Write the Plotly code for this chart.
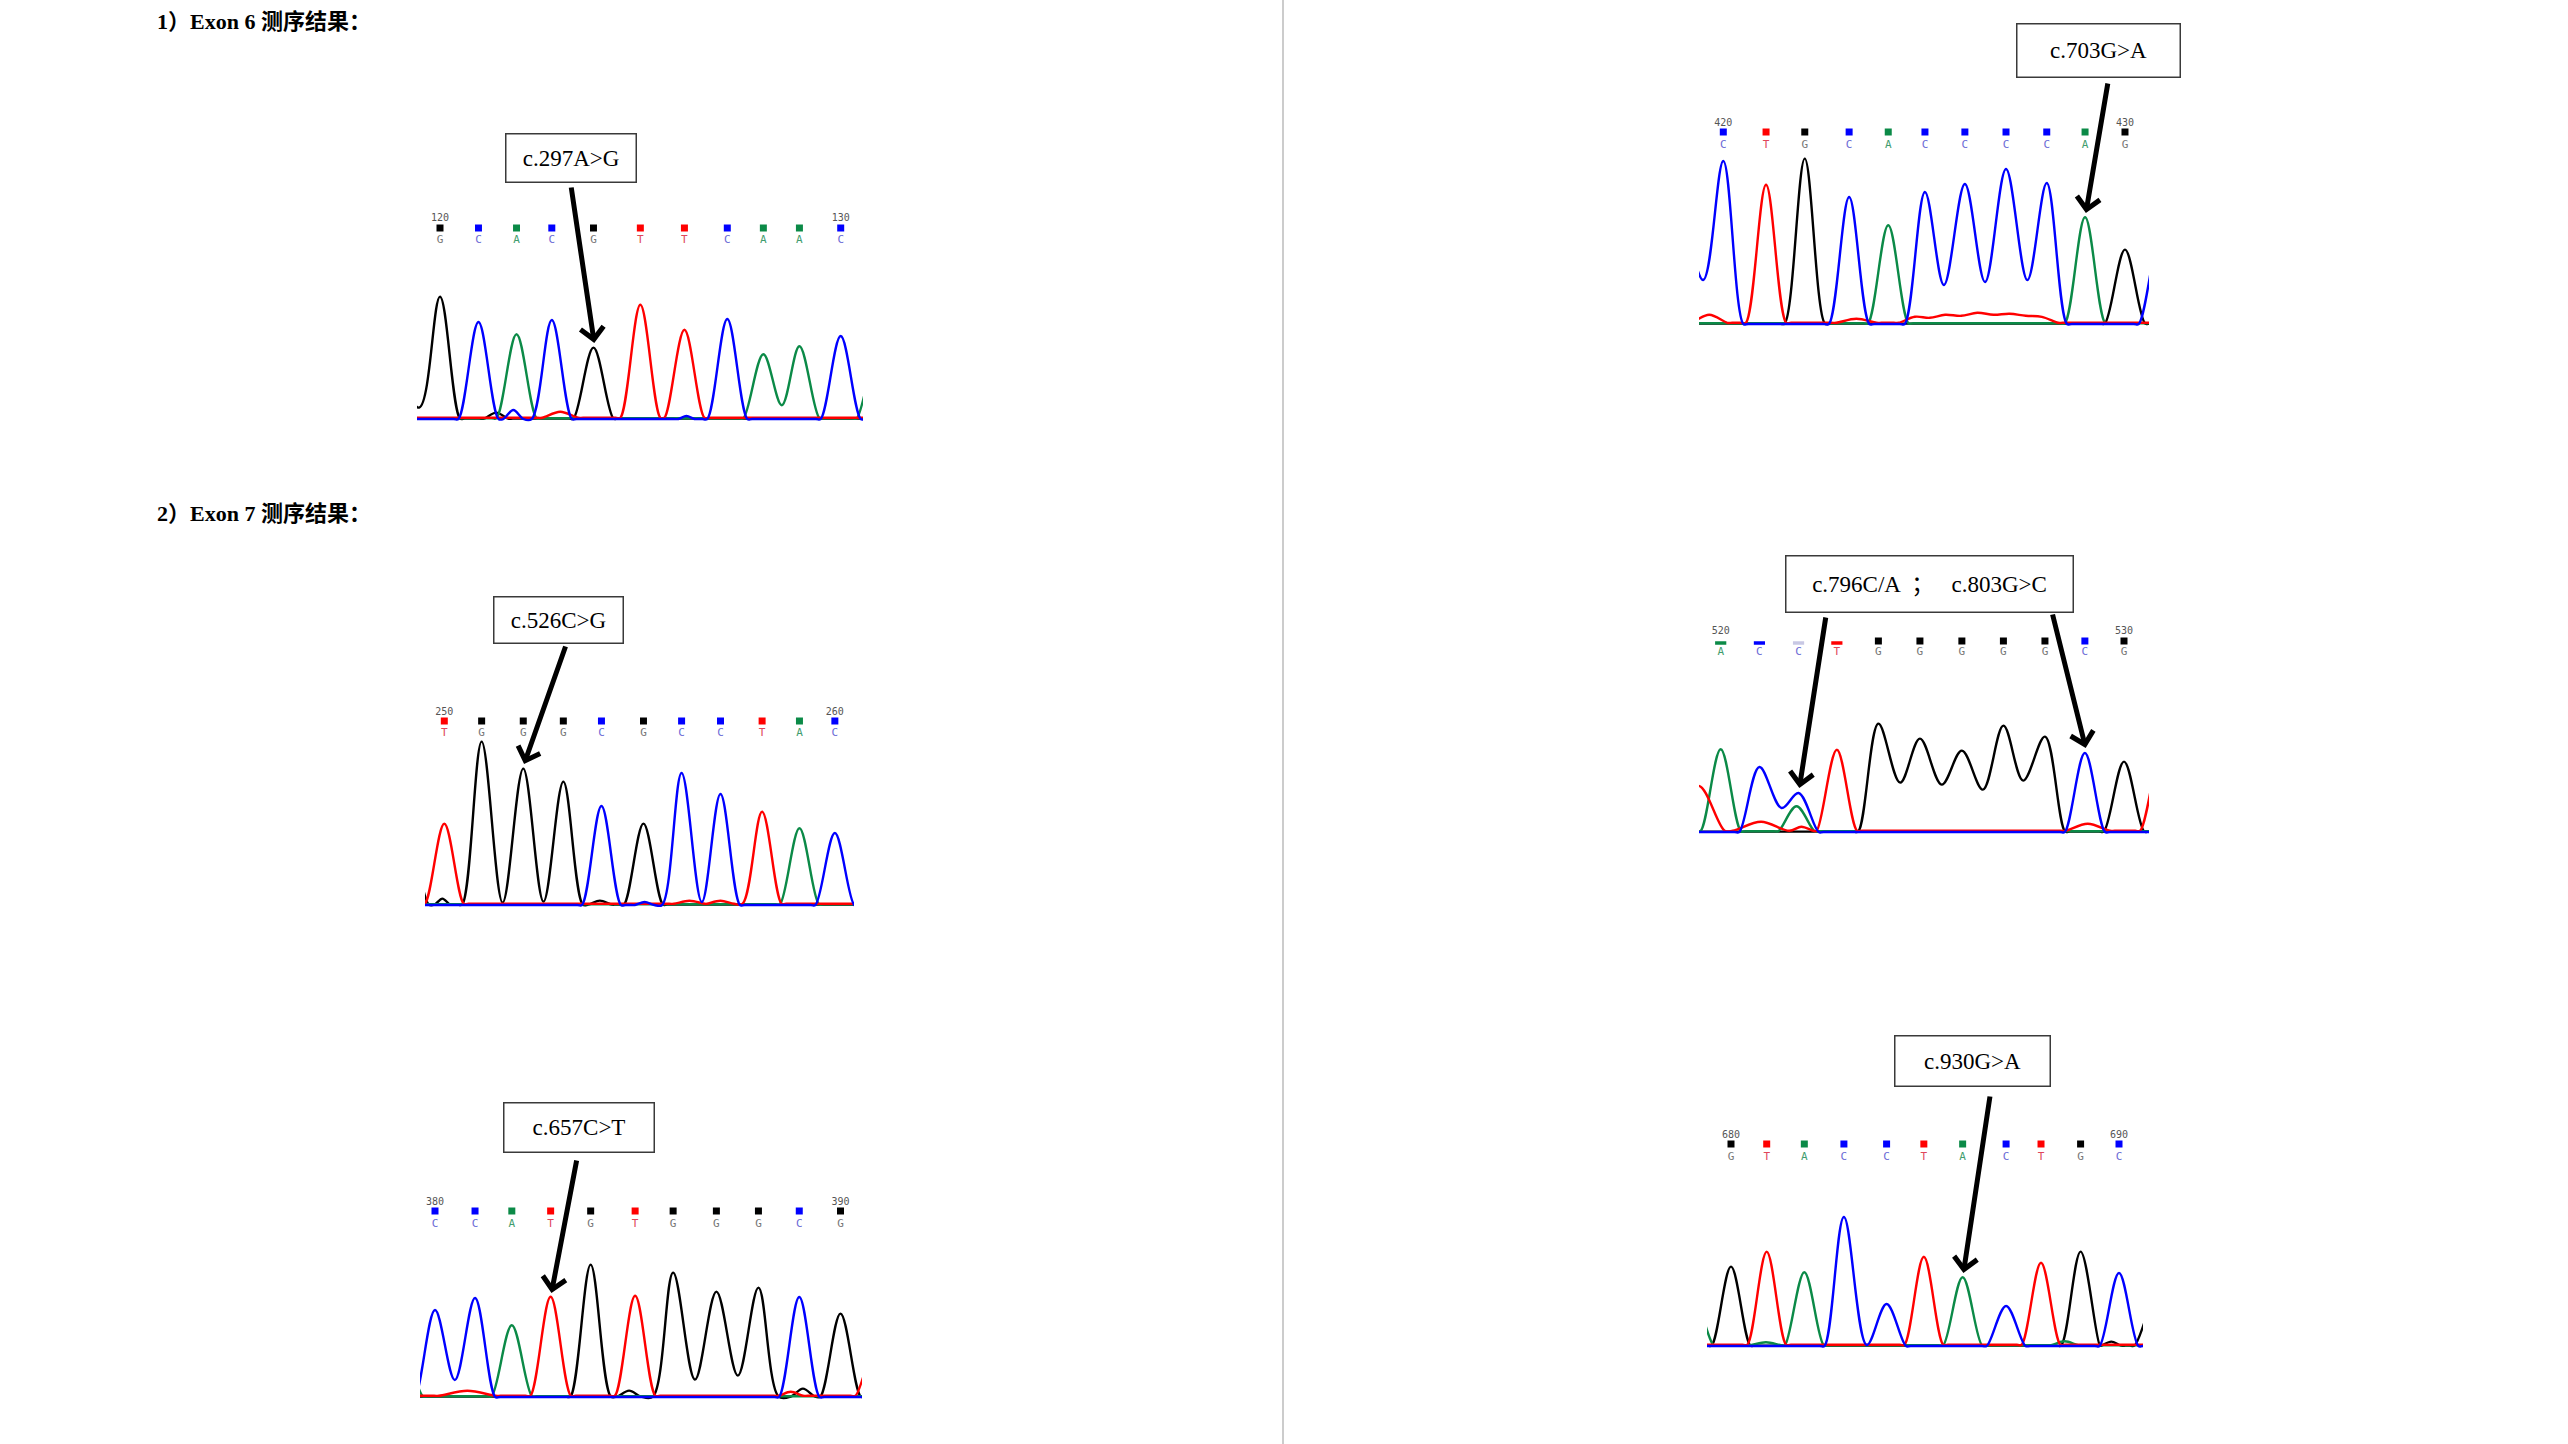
import plotly.graph_objects as go

W, H = 2568, 1444

# ---- chromatogram values (positions in base steps, heights in px) ----
A_START = 120
A_CALLS = "GCACGTTCAAC"
A_POS = [0, 0.96, 1.91, 2.79, 3.83, 5.0, 6.1, 7.17, 8.07, 8.97, 10]
A_HGT = [122, 97, 84, 99, 71, 113, 88, 100, 64, 72, 83]
A_DIPS = [("A", 8.53, 13), ("G", -0.52, 11)]
A_MINOR = [("G", -1.1, 40, 0.5), ("A", 10.95, 70, 0.55), ("G", 1.4, 6, 0.3),
           ("C", 1.83, 9, 0.25), ("T", 3.0, 6, 0.45), ("C", 6.15, 3, 0.2)]

B_START = 250
B_CALLS = "TGGGCGCCTAC"
B_POS = [0, 0.96, 2.03, 3.06, 4.04, 5.12, 6.10, 7.10, 8.17, 9.13, 10.04]
B_HGT = [80, 163, 136, 123, 99, 81, 132, 111, 92, 76, 72]
B_DIPS = [("G", 1.5, 2), ("G", 2.55, 3), ("C", 6.62, 3)]
B_MINOR = [("G", -0.85, 55, 0.45), ("G", -0.05, 6, 0.2), ("G", 4.0, 4, 0.3),
           ("C", 5.15, 3, 0.25), ("T", 6.3, 3, 0.4), ("T", 7.1, 3, 0.35)]

C_START = 380
C_CALLS = "CCATGTGGGCG"
C_POS = [0, 0.99, 1.90, 2.86, 3.85, 4.95, 5.89, 6.96, 8.0, 9.01, 10.03]
C_HGT = [87, 99, 71, 99, 132, 100, 124, 105, 109, 100, 83]
C_DIPS = [("C", 0.49, 17), ("G", 6.43, 17), ("G", 7.49, 21)]
C_MINOR = [("A", -0.8, 45, 0.5), ("T", 11.0, 60, 0.6), ("T", 0.8, 5, 0.7),
           ("T", 8.8, 4, 0.3), ("G", 4.8, 6, 0.3), ("G", 9.1, 8, 0.3)]

D_START = 420
D_CALLS = "CTGCACCCCAG"
D_POS = [0, 1.06, 2.02, 3.12, 4.09, 5.0, 5.99, 7.01, 8.02, 8.97, 9.96]
D_HGT = [163, 138, 165, 127, 98, 132, 140, 155, 141, 106, 74]
D_DIPS = [("C", -0.5, 44), ("C", 5.47, 39), ("C", 6.49, 42), ("C", 7.54, 44),
          ("T", 5.12, 5), ("T", 5.9, 7), ("T", 6.7, 8), ("T", 7.5, 7)]
D_MINOR = [("C", -1.1, 110, 0.5), ("C", 10.95, 110, 0.65), ("T", -0.35, 8, 0.45),
           ("T", 3.3, 4, 0.5), ("T", 4.75, 6, 0.4), ("T", 5.5, 8, 0.4),
           ("T", 6.3, 10, 0.45), ("T", 7.1, 9, 0.4), ("T", 7.9, 6, 0.4)]

E_START = 520
E_CALLS = "ACCTGGGGGCG"
E_POS = [0, 0.96, 1.93, 2.88, 3.91, 4.94, 5.98, 7.01, 8.04, 9.03, 10.0]
E_HGT = [82, 65, 39, 81, 108, 93, 81, 106, 95, 79, 70]
E_DIPS = [("C", 1.51, 24), ("G", 4.45, 49), ("G", 5.48, 47), ("G", 6.5, 42), ("G", 7.5, 51)]
E_MINOR = [("A", 1.88, 25, 0.45), ("T", -0.55, 45, 0.65), ("T", 11.1, 110, 0.7),
           ("T", 1.0, 9, 0.7), ("T", 2.0, 4, 0.3), ("T", 9.1, 7, 0.55)]
E_LOWQ = [0, 1, 2, 3]
E_PALE = [2]

F_START = 680
F_CALLS = "GTACCTACTGC"
F_POS = [0, 0.92, 1.89, 2.91, 4.01, 4.97, 5.97, 7.09, 7.99, 9.01, 10.0]
F_HGT = [79, 93, 73, 129, 42, 88, 68, 40, 82, 94, 73]
F_DIPS = [("C", 3.5, 1)]
F_MINOR = [("A", -1.0, 50, 0.55), ("G", 11.2, 70, 0.8), ("A", 0.9, 3, 0.4),
           ("A", 8.6, 4, 0.35), ("G", 9.8, 4, 0.25)]

LABELS = ["c.297A>G", "c.526C>G", "c.657C>T", "c.703G>A",
          "c.796C/A  ；   c.803G>C", "c.930G>A"]
TITLES = ["1）Exon 6 测序结果：", "2）Exon 7 测序结果："]

# ---- page geometry (px): left, right, first label x, step, baseline, rows, box ----
GEOM = [
    dict(l=417, r=863, x0=440, dx=40.07, base=419, rows=(201, 191, 179),
         box=(571, 158, 132, 50), arrows=[(4, 3.27, 233)]),
    dict(l=425, r=854, x0=444.3, dx=38.9, base=905, rows=(193, 184, 172),
         box=(558, 620, 131, 48), arrows=[(2, 3.13, 260)]),
    dict(l=420, r=862, x0=435, dx=40.43, base=1397, rows=(195, 186, 173),
         box=(579, 1127, 152, 51), arrows=[(3, 3.51, 238)]),
    dict(l=1699, r=2149, x0=1723.3, dx=40.33, base=324, rows=(201, 192, 179),
         box=(2098, 50, 165, 55), arrows=[(9, 9.54, 242)]),
    dict(l=1699, r=2149, x0=1720.7, dx=40.33, base=832, rows=(201, 191, 180),
         box=(1930, 584, 289, 58), arrows=[(2, 2.61, 216), (9, 8.22, 219)]),
    dict(l=1707, r=2143, x0=1731, dx=38.8, base=1346, rows=(211, 202, 189),
         box=(1972, 1061, 157, 52), arrows=[(6, 6.68, 251)]),
]

PANELS = [
    (A_START, A_CALLS, A_POS, A_HGT, A_DIPS, A_MINOR),
    (B_START, B_CALLS, B_POS, B_HGT, B_DIPS, B_MINOR),
    (C_START, C_CALLS, C_POS, C_HGT, C_DIPS, C_MINOR),
    (D_START, D_CALLS, D_POS, D_HGT, D_DIPS, D_MINOR),
    (E_START, E_CALLS, E_POS, E_HGT, E_DIPS, E_MINOR),
    (F_START, F_CALLS, F_POS, F_HGT, F_DIPS, F_MINOR),
]

LINE = {"A": "#0b8a47", "C": "#0000ff", "G": "#000000", "T": "#ff0000"}
TXT = {"A": "#3f9d6e", "C": "#6b6bd6", "G": "#777777", "T": "#e0465a"}
OFF = {"A": 0.8, "C": 0.0, "G": 0.4, "T": 1.2}
SERIF = "Liberation Serif, Times New Roman, Noto Sans CJK SC, serif"
MONO = "DejaVu Sans Mono, monospace"


def channel(calls, pos, hgt, dips, minor, ch, lo, hi, w=0.5):
    b = OFF[ch]
    pk = [(p, h, w) for c, p, h in zip(calls, pos, hgt) if c == ch]
    pk += [(p, h, ww) for c, p, h, ww in minor if c == ch]
    pk.sort()
    dp = sorted((p, h) for c, p, h in dips if c == ch)
    xs, ys = [lo - 1], [b]
    for i, (p, h, ww) in enumerate(pk):
        if i == 0:
            xs += [p - ww - 0.12, p - ww]
            ys += [b, b]
        else:
            q, _, qw = pk[i - 1]
            mid = [d for d in dp if q < d[0] < p]
            gap = (p - ww) - (q + qw)
            if mid:
                for d in mid:
                    xs.append(d[0])
                    ys.append(d[1] + b)
            elif gap > 0.3:
                xs += [q + qw, q + qw + 0.12, p - ww - 0.12, p - ww]
                ys += [b] * 4
            elif gap > 0:
                xs += [q + qw, p - ww]
                ys += [b, b]
            else:
                xs.append((q + qw + p - ww) / 2)
                ys.append(b)
        xs.append(p)
        ys.append(h + b)
    if pk:
        p, _, ww = pk[-1]
        xs += [p + ww, p + ww + 0.12]
        ys += [b, b]
    xs.append(hi + 1)
    ys.append(b)
    return xs, ys


fig = go.Figure()
layout = {}
annotations = []

for k, ((start, calls, pos, hgt, dips, minor), g) in enumerate(zip(PANELS, GEOM), 1):
    xa = "x" if k == 1 else f"x{k}"
    ya = "y" if k == 1 else f"y{k}"
    lo = (g["l"] - g["x0"]) / g["dx"]
    hi = (g["r"] - g["x0"]) / g["dx"]
    top = g["rows"][0] + 12
    layout["xaxis" if k == 1 else f"xaxis{k}"] = dict(
        domain=[g["l"] / W, g["r"] / W], range=[lo, hi], visible=False,
        anchor=ya, fixedrange=True)
    layout["yaxis" if k == 1 else f"yaxis{k}"] = dict(
        domain=[1 - (g["base"] + 3) / H, 1 - (g["base"] - top) / H],
        range=[-3, top], visible=False, anchor=xa, fixedrange=True)

    for ch in "GATC":
        xs, ys = channel(calls, pos, hgt, dips, minor, ch, lo, hi)
        fig.add_trace(go.Scatter(
            x=xs, y=ys, mode="lines", xaxis=xa, yaxis=ya,
            line=dict(color=LINE[ch], width=2.4, shape="spline", smoothing=1.0),
            hoverinfo="skip", showlegend=False))

    r_num, r_sq, r_let = g["rows"]
    fig.add_trace(go.Scatter(
        x=[pos[0], pos[-1]], y=[r_num, r_num], mode="text",
        text=[str(start), str(start + 10)], xaxis=xa, yaxis=ya,
        textfont=dict(family=MONO, size=10, color="#555555"),
        hoverinfo="skip", showlegend=False))

    lowq = E_LOWQ if k == 5 else []
    sq = [i for i in range(len(calls)) if i not in lowq]
    fig.add_trace(go.Scatter(
        x=[pos[i] for i in sq], y=[r_sq] * len(sq), mode="markers",
        xaxis=xa, yaxis=ya,
        marker=dict(symbol="square", size=7, color=[LINE[calls[i]] for i in sq],
                    line=dict(width=0)),
        hoverinfo="skip", showlegend=False))
    if lowq:
        fig.add_trace(go.Scatter(
            x=[pos[i] for i in lowq], y=[r_sq - 2] * len(lowq), mode="markers",
            xaxis=xa, yaxis=ya,
            marker=dict(symbol="line-ew", size=8,
                        line=dict(width=3.5, color=["#c8c8e4" if i in E_PALE else LINE[calls[i]]
                                                    for i in lowq])),
            hoverinfo="skip", showlegend=False))

    fig.add_trace(go.Scatter(
        x=pos, y=[r_let] * len(pos), mode="text", text=list(calls),
        xaxis=xa, yaxis=ya,
        textfont=dict(family=MONO, size=11, color=[TXT[c] for c in calls]),
        hoverinfo="skip", showlegend=False))

    cx, cy, bw, bh = g["box"]
    annotations.append(dict(
        x=cx / W, y=1 - cy / H, xref="paper", yref="paper", showarrow=False,
        text=LABELS[k - 1], xanchor="center", yanchor="middle",
        width=bw - 3, height=bh - 3, borderpad=0, borderwidth=1.5,
        bordercolor="#3a3a3a", bgcolor="white",
        font=dict(family=SERIF, size=23, color="black")))

    for idx, tx, ty in g["arrows"]:
        annotations.append(dict(
            x=pos[idx] + 0.02, y=hgt[idx] + 5, xref=xa, yref=ya,
            ax=tx, ay=ty, axref=xa, ayref=ya, text="", showarrow=True,
            arrowhead=4, arrowsize=0.9, arrowwidth=5, arrowcolor="black",
            standoff=0))

for t, ty in zip(TITLES, [21, 513]):
    annotations.append(dict(
        x=155 / W, y=1 - ty / H, xref="paper", yref="paper", showarrow=False,
        text=f"<b>{t}</b>", xanchor="left", yanchor="middle",
        font=dict(family=SERIF, size=22, color="black")))

fig.update_layout(
    width=W, height=H, margin=dict(l=0, r=0, t=0, b=0),
    paper_bgcolor="white", plot_bgcolor="white",
    annotations=annotations,
    shapes=[dict(type="line", xref="paper", yref="paper", x0=1283 / W, x1=1283 / W,
                 y0=0, y1=1, line=dict(color="#cccccc", width=2))],
    **layout)

# the page body has a default 8px margin; drop it so the figure sits at the window corner
fig.write_html("out.html", config={"displayModeBar": False},
               post_script="document.body.style.margin = '0px';")
